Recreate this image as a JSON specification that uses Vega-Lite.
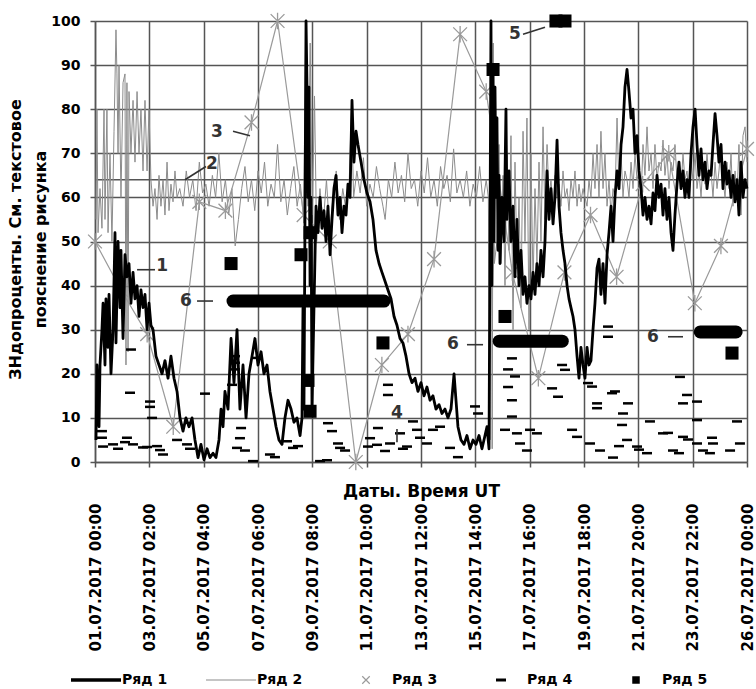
{
"$schema": "https://vega.github.io/schema/vega-lite/v6.json",
"width": 652, "height": 441,
"autosize": {"type": "none"},
"padding": {"left": 95, "top": 21, "right": 9, "bottom": 227},
"background": "white",
"config": {"view": {"stroke": null}, "font": "DejaVu Sans"},
"datasets": {
"r1": [{"h":0.9,"v":5},{"h":1.8,"v":22},{"h":3.7,"v":8},{"h":4.6,"v":22},{"h":6.4,"v":30},{"h":7.4,"v":36},{"h":9.2,"v":22},{"h":10.1,"v":37},{"h":12.0,"v":26},{"h":12.9,"v":38},{"h":14.7,"v":20},{"h":16.6,"v":30},{"h":18.4,"v":52},{"h":19.3,"v":27},{"h":21.2,"v":50},{"h":23.0,"v":35},{"h":23.9,"v":48},{"h":25.8,"v":28},{"h":27.6,"v":47},{"h":29.4,"v":42},{"h":31.3,"v":45},{"h":33.1,"v":36},{"h":35.0,"v":43},{"h":36.8,"v":37},{"h":38.7,"v":40},{"h":40.5,"v":33},{"h":42.3,"v":39},{"h":44.2,"v":35},{"h":46.0,"v":38},{"h":47.9,"v":30},{"h":49.7,"v":36},{"h":51.5,"v":31},{"h":53.4,"v":30},{"h":56.1,"v":24},{"h":58.9,"v":22},{"h":61.7,"v":20},{"h":64.4,"v":23},{"h":67.2,"v":19},{"h":69.9,"v":24},{"h":72.7,"v":19},{"h":75.5,"v":16},{"h":78.2,"v":10},{"h":81.0,"v":7},{"h":83.7,"v":10},{"h":86.5,"v":8},{"h":89.3,"v":10},{"h":92.0,"v":5},{"h":94.8,"v":1},{"h":97.5,"v":4},{"h":100.3,"v":0.5},{"h":103.1,"v":3},{"h":105.8,"v":1},{"h":108.6,"v":2},{"h":111.3,"v":1},{"h":114.1,"v":5},{"h":116.0,"v":12},{"h":117.8,"v":8},{"h":119.6,"v":16},{"h":122.4,"v":12},{"h":125.2,"v":28},{"h":127.9,"v":18},{"h":130.7,"v":30},{"h":133.4,"v":12},{"h":136.2,"v":22},{"h":139.0,"v":10},{"h":141.7,"v":20},{"h":144.5,"v":24},{"h":147.2,"v":28},{"h":150.0,"v":22},{"h":152.8,"v":25},{"h":155.5,"v":20},{"h":158.3,"v":22},{"h":161.0,"v":16},{"h":163.8,"v":12},{"h":166.6,"v":8},{"h":169.3,"v":5},{"h":172.1,"v":4},{"h":174.8,"v":10},{"h":177.6,"v":14},{"h":180.4,"v":12},{"h":183.1,"v":9},{"h":185.9,"v":10},{"h":188.7,"v":6},{"h":190.5,"v":10},{"h":191.4,"v":35},{"h":192.3,"v":12},{"h":194.2,"v":100},{"h":195.1,"v":85},{"h":196.0,"v":60},{"h":196.9,"v":85},{"h":197.9,"v":40},{"h":198.8,"v":60},{"h":199.7,"v":12},{"h":201.5,"v":35},{"h":203.4,"v":58},{"h":205.2,"v":52},{"h":207.1,"v":60},{"h":208.9,"v":53},{"h":210.7,"v":57},{"h":212.6,"v":50},{"h":214.4,"v":58},{"h":216.3,"v":47},{"h":218.1,"v":55},{"h":219.9,"v":62},{"h":221.8,"v":65},{"h":223.6,"v":56},{"h":225.5,"v":60},{"h":227.3,"v":52},{"h":229.1,"v":58},{"h":231.0,"v":56},{"h":232.8,"v":63},{"h":234.7,"v":60},{"h":236.5,"v":82},{"h":238.3,"v":68},{"h":240.2,"v":75},{"h":242.0,"v":72},{"h":244.8,"v":68},{"h":247.5,"v":64},{"h":250.3,"v":61},{"h":253.1,"v":59},{"h":255.8,"v":55},{"h":258.6,"v":48},{"h":261.4,"v":45},{"h":264.1,"v":43},{"h":266.9,"v":41},{"h":269.6,"v":39},{"h":272.4,"v":37},{"h":275.2,"v":33},{"h":277.9,"v":31},{"h":280.7,"v":28},{"h":283.4,"v":27},{"h":286.2,"v":24},{"h":289.0,"v":20},{"h":291.7,"v":18},{"h":294.5,"v":19},{"h":297.2,"v":16},{"h":300.0,"v":18},{"h":302.8,"v":15},{"h":305.5,"v":17},{"h":308.3,"v":14},{"h":311.0,"v":15},{"h":313.8,"v":12},{"h":316.6,"v":13},{"h":319.3,"v":11},{"h":322.1,"v":12},{"h":324.8,"v":10},{"h":327.6,"v":12},{"h":330.4,"v":20},{"h":332.2,"v":14},{"h":334.0,"v":8},{"h":336.8,"v":5},{"h":339.6,"v":4},{"h":342.3,"v":6},{"h":345.1,"v":3},{"h":347.9,"v":5},{"h":350.6,"v":4},{"h":353.4,"v":6},{"h":356.1,"v":3},{"h":358.9,"v":6},{"h":360.7,"v":8},{"h":362.6,"v":3},{"h":364.4,"v":100},{"h":365.3,"v":40},{"h":366.3,"v":90},{"h":367.2,"v":50},{"h":368.1,"v":85},{"h":369.0,"v":60},{"h":369.9,"v":78},{"h":370.9,"v":48},{"h":371.8,"v":65},{"h":372.7,"v":45},{"h":374.5,"v":60},{"h":376.4,"v":50},{"h":378.2,"v":80},{"h":379.1,"v":55},{"h":381.0,"v":66},{"h":382.8,"v":50},{"h":384.7,"v":58},{"h":386.5,"v":42},{"h":388.3,"v":55},{"h":390.2,"v":40},{"h":392.0,"v":48},{"h":393.9,"v":38},{"h":395.7,"v":42},{"h":397.5,"v":36},{"h":399.4,"v":40},{"h":401.2,"v":37},{"h":403.1,"v":43},{"h":404.9,"v":38},{"h":406.7,"v":45},{"h":408.6,"v":40},{"h":410.4,"v":48},{"h":412.3,"v":42},{"h":414.1,"v":50},{"h":416.0,"v":66},{"h":417.8,"v":55},{"h":419.6,"v":62},{"h":421.5,"v":54},{"h":423.3,"v":60},{"h":425.2,"v":73},{"h":427.0,"v":58},{"h":428.8,"v":52},{"h":430.7,"v":48},{"h":432.5,"v":45},{"h":434.4,"v":40},{"h":436.2,"v":37},{"h":438.0,"v":35},{"h":439.9,"v":33},{"h":441.7,"v":30},{"h":443.6,"v":24},{"h":445.4,"v":19},{"h":447.2,"v":26},{"h":449.1,"v":22},{"h":450.9,"v":19},{"h":452.8,"v":26},{"h":454.6,"v":22},{"h":456.4,"v":23},{"h":458.3,"v":30},{"h":460.1,"v":36},{"h":462.0,"v":44},{"h":463.8,"v":46},{"h":465.6,"v":38},{"h":467.5,"v":45},{"h":469.3,"v":36},{"h":471.2,"v":47},{"h":473.0,"v":52},{"h":474.9,"v":58},{"h":476.7,"v":50},{"h":478.5,"v":60},{"h":480.4,"v":66},{"h":482.2,"v":62},{"h":484.1,"v":72},{"h":485.9,"v":76},{"h":487.7,"v":85},{"h":489.6,"v":89},{"h":491.4,"v":84},{"h":493.3,"v":78},{"h":495.1,"v":80},{"h":496.9,"v":70},{"h":498.8,"v":74},{"h":500.6,"v":66},{"h":502.5,"v":62},{"h":504.3,"v":56},{"h":506.1,"v":60},{"h":508.0,"v":55},{"h":509.8,"v":58},{"h":511.7,"v":54},{"h":513.5,"v":61},{"h":515.3,"v":57},{"h":517.2,"v":65},{"h":519.0,"v":60},{"h":520.9,"v":63},{"h":522.7,"v":56},{"h":524.5,"v":62},{"h":526.4,"v":55},{"h":528.2,"v":60},{"h":530.1,"v":52},{"h":531.9,"v":48},{"h":533.7,"v":56},{"h":535.6,"v":63},{"h":537.4,"v":68},{"h":539.3,"v":62},{"h":541.1,"v":66},{"h":542.9,"v":60},{"h":544.8,"v":64},{"h":546.6,"v":60},{"h":548.5,"v":70},{"h":550.3,"v":76},{"h":552.2,"v":80},{"h":554.0,"v":72},{"h":555.8,"v":65},{"h":557.7,"v":71},{"h":559.5,"v":64},{"h":561.4,"v":68},{"h":563.2,"v":62},{"h":565.0,"v":66},{"h":566.9,"v":65},{"h":568.7,"v":72},{"h":570.6,"v":79},{"h":572.4,"v":74},{"h":574.2,"v":68},{"h":576.1,"v":72},{"h":577.9,"v":62},{"h":579.8,"v":68},{"h":581.6,"v":63},{"h":583.4,"v":66},{"h":585.3,"v":60},{"h":587.1,"v":65},{"h":589.0,"v":59},{"h":590.8,"v":64},{"h":592.6,"v":56},{"h":594.5,"v":68},{"h":596.3,"v":60},{"h":598.2,"v":64},{"h":600.0,"v":62}],
"r2": [{"h":0.9,"v":55},{"h":1.8,"v":80},{"h":2.8,"v":52},{"h":4.6,"v":62},{"h":6.4,"v":53},{"h":8.3,"v":80},{"h":9.2,"v":55},{"h":11.0,"v":80},{"h":12.0,"v":52},{"h":13.8,"v":70},{"h":15.6,"v":50},{"h":17.5,"v":75},{"h":19.3,"v":98},{"h":20.2,"v":88},{"h":21.2,"v":70},{"h":22.1,"v":90},{"h":23.9,"v":60},{"h":25.8,"v":86},{"h":27.6,"v":88},{"h":28.5,"v":22},{"h":29.4,"v":86},{"h":30.4,"v":25},{"h":31.3,"v":84},{"h":33.1,"v":70},{"h":35.0,"v":82},{"h":36.8,"v":68},{"h":38.7,"v":84},{"h":40.5,"v":70},{"h":42.3,"v":80},{"h":44.2,"v":66},{"h":46.0,"v":82},{"h":47.9,"v":66},{"h":49.7,"v":80},{"h":51.5,"v":64},{"h":53.4,"v":58},{"h":55.2,"v":62},{"h":57.1,"v":55},{"h":58.9,"v":65},{"h":60.7,"v":58},{"h":62.6,"v":64},{"h":64.4,"v":56},{"h":66.3,"v":68},{"h":68.1,"v":57},{"h":69.9,"v":63},{"h":71.8,"v":59},{"h":73.6,"v":66},{"h":75.5,"v":60},{"h":78,"v":62},{"h":81,"v":58},{"h":84,"v":66},{"h":87,"v":60},{"h":90,"v":64},{"h":93,"v":57},{"h":96,"v":68},{"h":99,"v":61},{"h":102,"v":63},{"h":105,"v":58},{"h":108,"v":65},{"h":111,"v":60},{"h":114,"v":70},{"h":117,"v":59},{"h":120,"v":64},{"h":123,"v":56},{"h":126,"v":62},{"h":129,"v":49},{"h":132,"v":55},{"h":135,"v":62},{"h":138,"v":67},{"h":141,"v":59},{"h":144,"v":64},{"h":147,"v":57},{"h":150,"v":66},{"h":153,"v":61},{"h":156,"v":68},{"h":159,"v":58},{"h":162,"v":63},{"h":165,"v":60},{"h":168,"v":72},{"h":171,"v":59},{"h":174,"v":64},{"h":177,"v":56},{"h":180,"v":62},{"h":183,"v":67},{"h":186,"v":58},{"h":189,"v":63},{"h":192,"v":55},{"h":194,"v":100},{"h":196,"v":58},{"h":198,"v":95},{"h":200,"v":56},{"h":202,"v":83},{"h":204,"v":50},{"h":207,"v":62},{"h":210,"v":54},{"h":213,"v":64},{"h":216,"v":52},{"h":219,"v":60},{"h":222,"v":66},{"h":225,"v":55},{"h":228,"v":62},{"h":231,"v":57},{"h":234,"v":64},{"h":236,"v":80},{"h":238,"v":60},{"h":241,"v":66},{"h":244,"v":61},{"h":247,"v":69},{"h":250,"v":58},{"h":253,"v":63},{"h":256,"v":60},{"h":259,"v":67},{"h":262,"v":62},{"h":265,"v":58},{"h":267,"v":55},{"h":270,"v":64},{"h":273,"v":60},{"h":276,"v":68},{"h":279,"v":61},{"h":282,"v":65},{"h":285,"v":59},{"h":288,"v":70},{"h":291,"v":62},{"h":294,"v":64},{"h":297,"v":58},{"h":300,"v":66},{"h":303,"v":61},{"h":306,"v":69},{"h":309,"v":60},{"h":312,"v":64},{"h":315,"v":58},{"h":318,"v":67},{"h":321,"v":62},{"h":324,"v":65},{"h":327,"v":59},{"h":330,"v":71},{"h":333,"v":61},{"h":336,"v":64},{"h":339,"v":60},{"h":342,"v":66},{"h":345,"v":58},{"h":348,"v":63},{"h":351,"v":60},{"h":354,"v":67},{"h":357,"v":59},{"h":360,"v":64},{"h":362,"v":60},{"h":363.5,"v":5},{"h":364.4,"v":100},{"h":365.5,"v":3},{"h":366.5,"v":95},{"h":367.5,"v":45},{"h":369.9,"v":50},{"h":371.8,"v":72},{"h":373.6,"v":45},{"h":375.5,"v":65},{"h":377.3,"v":40},{"h":379.1,"v":70},{"h":381.0,"v":48},{"h":382.8,"v":74},{"h":384.7,"v":30},{"h":386.5,"v":68},{"h":388.3,"v":45},{"h":390.2,"v":60},{"h":392.0,"v":35},{"h":393.9,"v":75},{"h":395.7,"v":50},{"h":397.5,"v":78},{"h":399.4,"v":30},{"h":401.2,"v":70},{"h":403.1,"v":40},{"h":404.9,"v":62},{"h":406.7,"v":45},{"h":408.6,"v":68},{"h":410.4,"v":50},{"h":412.3,"v":76},{"h":414.1,"v":55},{"h":416.0,"v":72},{"h":417.8,"v":60},{"h":419.6,"v":64},{"h":421.5,"v":58},{"h":423.3,"v":65},{"h":425.2,"v":60},{"h":427.0,"v":63},{"h":428.8,"v":58},{"h":430.7,"v":66},{"h":432.5,"v":60},{"h":434.4,"v":62},{"h":436.2,"v":57},{"h":438.0,"v":64},{"h":439.9,"v":60},{"h":441.7,"v":66},{"h":443.6,"v":58},{"h":445.4,"v":63},{"h":447.2,"v":59},{"h":449.1,"v":62},{"h":450.9,"v":60},{"h":452.8,"v":58},{"h":454.6,"v":64},{"h":456.4,"v":60},{"h":458.3,"v":70},{"h":460.1,"v":62},{"h":462.0,"v":72},{"h":463.8,"v":60},{"h":465.6,"v":75},{"h":467.5,"v":62},{"h":469.3,"v":70},{"h":471.2,"v":58},{"h":473.0,"v":64},{"h":474.9,"v":56},{"h":476.7,"v":62},{"h":478.5,"v":60},{"h":480.4,"v":78},{"h":482.2,"v":62},{"h":484.1,"v":70},{"h":485.9,"v":60},{"h":487.7,"v":66},{"h":489.6,"v":64},{"h":491.4,"v":60},{"h":493.3,"v":68},{"h":495.1,"v":62},{"h":496.9,"v":70},{"h":498.8,"v":64},{"h":500.6,"v":66},{"h":502.5,"v":60},{"h":504.3,"v":72},{"h":506.1,"v":65},{"h":508.0,"v":76},{"h":509.8,"v":66},{"h":511.7,"v":70},{"h":513.5,"v":62},{"h":515.3,"v":72},{"h":517.2,"v":64},{"h":519.0,"v":68},{"h":520.9,"v":66},{"h":522.7,"v":73},{"h":524.5,"v":65},{"h":526.4,"v":70},{"h":528.2,"v":62},{"h":530.1,"v":68},{"h":531.9,"v":66},{"h":533.7,"v":72},{"h":535.6,"v":64},{"h":537.4,"v":68},{"h":539.3,"v":62},{"h":541.1,"v":70},{"h":542.9,"v":64},{"h":544.8,"v":66},{"h":546.6,"v":60},{"h":548.5,"v":68},{"h":550.3,"v":64},{"h":552.2,"v":70},{"h":554.0,"v":62},{"h":555.8,"v":66},{"h":557.7,"v":60},{"h":559.5,"v":68},{"h":561.4,"v":63},{"h":563.2,"v":70},{"h":565.0,"v":64},{"h":566.9,"v":66},{"h":568.7,"v":60},{"h":570.6,"v":68},{"h":572.4,"v":62},{"h":574.2,"v":66},{"h":576.1,"v":72},{"h":577.9,"v":64},{"h":579.8,"v":60},{"h":581.6,"v":68},{"h":583.4,"v":62},{"h":585.3,"v":70},{"h":587.1,"v":58},{"h":589.0,"v":66},{"h":590.8,"v":60},{"h":592.6,"v":72},{"h":594.5,"v":56},{"h":596.3,"v":74},{"h":598.2,"v":76},{"h":600.0,"v":68}],
"r3": [{"h":0,"v":50},{"h":24,"v":39},{"h":48,"v":29},{"h":72,"v":8},{"h":96,"v":59},{"h":120,"v":57},{"h":144,"v":77},{"h":168,"v":100},{"h":192,"v":56},{"h":216,"v":50},{"h":240,"v":0},{"h":264,"v":22},{"h":288,"v":29},{"h":312,"v":46},{"h":336,"v":97},{"h":360,"v":84},{"h":384,"v":43},{"h":408,"v":19},{"h":432,"v":43},{"h":456,"v":56},{"h":480,"v":42},{"h":504,"v":63},{"h":528,"v":70},{"h":552,"v":36},{"h":576,"v":49},{"h":600,"v":71}],
"r4": [{"h":6.4,"v":7},{"h":6.4,"v":5.5},{"h":7.4,"v":3.5},{"h":16.6,"v":4},{"h":21.2,"v":3},{"h":27.6,"v":4.5},{"h":29.4,"v":5.5},{"h":32.2,"v":15.7},{"h":33.1,"v":25.5},{"h":35.0,"v":4},{"h":44.2,"v":3.3},{"h":47.9,"v":3.4},{"h":50.6,"v":13.7},{"h":50.6,"v":12.5},{"h":52.5,"v":10},{"h":57.1,"v":3.6},{"h":59.8,"v":2.7},{"h":62.6,"v":1.7},{"h":75.5,"v":5},{"h":84.7,"v":4},{"h":87.4,"v":3},{"h":101.2,"v":15.5},{"h":126.1,"v":17.5},{"h":128.8,"v":24},{"h":128.8,"v":22.5},{"h":128.8,"v":21},{"h":130.7,"v":3.2},{"h":133.4,"v":5.4},{"h":134.4,"v":7.7},{"h":138.0,"v":2.6},{"h":145.4,"v":0.2},{"h":150.0,"v":23.6},{"h":161.0,"v":1.7},{"h":165.6,"v":1.1},{"h":176.7,"v":4.7},{"h":182.2,"v":3.2},{"h":186.8,"v":3.6},{"h":207.1,"v":0.2},{"h":213.5,"v":0.4},{"h":214.4,"v":8.8},{"h":218.1,"v":7},{"h":223.6,"v":4.2},{"h":225.5,"v":3.2},{"h":230.1,"v":2.6},{"h":251.2,"v":3.5},{"h":253.1,"v":5.4},{"h":259.5,"v":3.9},{"h":260.4,"v":7.7},{"h":266.9,"v":2.5},{"h":269.6,"v":17.5},{"h":269.6,"v":15.2},{"h":271.5,"v":4.2},{"h":280.7,"v":6.5},{"h":283.4,"v":3},{"h":287.1,"v":3.5},{"h":292.6,"v":9.2},{"h":296.3,"v":7.3},{"h":299.1,"v":5.5},{"h":305.5,"v":4.2},{"h":311.0,"v":7.3},{"h":317.5,"v":8},{"h":326.7,"v":3.2},{"h":334.0,"v":1.1},{"h":349.7,"v":12.6},{"h":352.5,"v":11},{"h":377.3,"v":7.3},{"h":380.1,"v":21},{"h":380.1,"v":17},{"h":383.7,"v":23.5},{"h":383.7,"v":14},{"h":383.7,"v":10.3},{"h":386.5,"v":19.4},{"h":388.3,"v":6.5},{"h":391.1,"v":4.2},{"h":397.5,"v":2.6},{"h":400.3,"v":7.3},{"h":406.7,"v":6.5},{"h":420.6,"v":16.7},{"h":426.1,"v":14.8},{"h":429.8,"v":22},{"h":432.5,"v":20.9},{"h":439.0,"v":7.3},{"h":443.6,"v":5.7},{"h":453.7,"v":17.9},{"h":457.4,"v":17.1},{"h":462.0,"v":13.3},{"h":462.0,"v":12.2},{"h":455.5,"v":4.2},{"h":464.7,"v":2.6},{"h":472.1,"v":28.4},{"h":472.1,"v":30.7},{"h":475.8,"v":15.6},{"h":476.7,"v":1},{"h":478.5,"v":16},{"h":482.2,"v":3.6},{"h":485.0,"v":8.4},{"h":485.9,"v":11},{"h":489.6,"v":5},{"h":490.5,"v":13.3},{"h":498.8,"v":3.5},{"h":500.6,"v":2.8},{"h":508.0,"v":2},{"h":510.7,"v":9.2},{"h":522.7,"v":6.5},{"h":527.3,"v":6.6},{"h":531.9,"v":2.6},{"h":537.4,"v":2},{"h":538.3,"v":19.3},{"h":541.1,"v":13.3},{"h":541.1,"v":5.7},{"h":544.8,"v":15.2},{"h":545.7,"v":5.1},{"h":554.0,"v":13.7},{"h":554.0,"v":9.5},{"h":554.0,"v":4.2},{"h":559.5,"v":2.6},{"h":565.9,"v":2},{"h":567.8,"v":5.5},{"h":568.7,"v":4.2},{"h":584.4,"v":2.6},{"h":590.8,"v":9.2},{"h":593.5,"v":4.2}],
"r5": [{"h":125.2,"v":45},{"h":189.6,"v":47},{"h":197.9,"v":52},{"h":196.0,"v":18.5},{"h":197.9,"v":11.5},{"h":265.0,"v":27},{"h":366.3,"v":89},{"h":377.3,"v":33},{"h":424.2,"v":100},{"h":432.5,"v":100},{"h":586.2,"v":24.7}],
"bars": [{"h":127,"h2":266,"v":36.5},{"h":372,"h2":430,"v":27.4},{"h":557,"h2":590,"v":29.5}],
"ref": [{"h":0,"h2":600,"v":64}],
"leaders": [{"h":38.7,"v":43.6,"h2":55.2,"v2":43.6},{"h":82.8,"v":64,"h2":102.1,"v2":67},{"h":127.0,"v":75,"h2":142.6,"v2":74},{"h":277.9,"v":7.5,"h2":277.9,"v2":4.5},{"h":393.9,"v":97,"h2":414.1,"v2":98.6},{"h":93.9,"v":36.5,"h2":108.6,"v2":36.5},{"h":342.3,"v":26.6,"h2":357.1,"v2":26.6},{"h":527.3,"v":28.4,"h2":541.1,"v2":28.4}],
"labels": [{"h":61.7,"v":44.5,"t":"1"},{"h":107.7,"v":67.5,"t":"2"},{"h":112.3,"v":74.8,"t":"3"},{"h":277.9,"v":11,"t":"4"},{"h":386.5,"v":97,"t":"5"},{"h":83.7,"v":36.5,"t":"6"},{"h":329.4,"v":26.8,"t":"6"},{"h":513.5,"v":28.4,"t":"6"}]
},
"encoding": {
  "x": {"field": "h", "type": "quantitative",
    "scale": {"domain": [0, 600], "nice": false, "zero": false},
    "axis": {"values": [0,50,100,150,200,250,300,350,400,450,500,550,600],
      "labelExpr": "utcFormat(utc(2017,6,1) + datum.value*3600000, '%d.%m.%Y %H:%M')",
      "labelAngle": -90, "labelAlign": "right", "labelBaseline": "middle", "labelPadding": 36,
      "labelFlush": false, "labelOverlap": false, "labelBound": false,
      "labelFont": "DejaVu Sans", "labelFontSize": 15, "labelFontWeight": "bold", "labelColor": "#000",
      "tickSize": 5, "tickColor": "#555", "tickWidth": 1.5,
      "grid": true, "gridColor": "#555", "gridWidth": 1.5,
      "domainColor": "#555", "domainWidth": 1.5,
      "title": "Даты. Время UT", "titleFont": "DejaVu Sans", "titleFontSize": 17, "titleFontWeight": "bold", "titleColor": "#000",
      "titleY": 29, "titleBaseline": "middle"}},
  "y": {"field": "v", "type": "quantitative",
    "scale": {"domain": [0, 100], "nice": false, "zero": false},
    "axis": {"values": [0,10,20,30,40,50,60,70,80,90,100],
      "labelFont": "DejaVu Sans", "labelFontSize": 14, "labelFontWeight": "bold", "labelColor": "#000", "labelPadding": 10,
      "tickSize": 5, "tickColor": "#555", "tickWidth": 1.5,
      "grid": true, "gridColor": "#555", "gridWidth": 1.5,
      "domainColor": "#555", "domainWidth": 1.5,
      "title": ["ЗНдопроценты. См. текстовое", "пояснение рисунка"],
      "titleFont": "DejaVu Sans", "titleFontSize": 16, "titleFontWeight": "bold", "titleColor": "#000",
      "titleLineHeight": 25, "titleX": -72, "titleY": 218, "titleAlign": "center", "titleBaseline": "bottom", "titleAngle": -90}}
},
"layer": [
  {"data": {"name": "ref"}, "mark": {"type": "rule", "color": "#555", "strokeWidth": 1.5}, "encoding": {"x2": {"field": "h2"}}},
  {"data": {"name": "r2"}, "mark": {"type": "line", "strokeWidth": 1},
   "encoding": {"color": {"datum": "Ряд 2", "type": "nominal",
     "scale": {"domain": ["Ряд 1","Ряд 2","Ряд 3","Ряд 4","Ряд 5"], "range": ["#000000","#8c8c8c","#9a9a9a","#000000","#000000"]},
     "legend": {"orient": "none", "legendX": -6, "legendY": 652, "direction": "horizontal", "columns": 5, "gridAlign": "all", "title": null,
       "symbolSize": 2500, "symbolStrokeWidth": 1, "labelFont": "DejaVu Sans", "labelFontSize": 14, "labelFontWeight": "bold", "labelColor": "#000",
       "labelOffset": 19, "columnPadding": 35,
       "encode": {"symbols": {"update": {
         "shape": {"signal": "datum.value === 'Ряд 1' || datum.value === 'Ряд 2' ? 'M-1,0H1' : datum.value === 'Ряд 3' ? 'M-0.15,-0.15L0.15,0.15M-0.15,0.15L0.15,-0.15' : datum.value === 'Ряд 4' ? 'M-0.2,0H0.2' : 'M-0.15,-0.15H0.15V0.15H-0.15Z'"},
         "size": {"value": 2500},
         "fill": {"signal": "datum.value === 'Ряд 5' ? '#000' : 'transparent'"},
         "stroke": {"signal": "datum.value === 'Ряд 2' || datum.value === 'Ряд 3' ? '#8c8c8c' : '#000'"},
         "strokeWidth": {"signal": "datum.value === 'Ряд 1' ? 3.5 : datum.value === 'Ряд 4' ? 3 : datum.value === 'Ряд 5' ? 0 : 1.2"},
         "opacity": {"value": 1}}}}}}}},
  {"data": {"name": "r3"}, "mark": {"type": "line", "strokeWidth": 1.2},
   "encoding": {"color": {"datum": "Ряд 3", "type": "nominal"}}},
  {"data": {"name": "r3"}, "mark": {"type": "point", "shape": "M-1,-1L1,1M-1,1L1,-1M0,-1.2L0,1.2", "size": 190, "filled": false, "strokeWidth": 1.3, "opacity": 1, "clip": false},
   "encoding": {"color": {"datum": "Ряд 3", "type": "nominal"}}},
  {"data": {"name": "r1"}, "mark": {"type": "line", "strokeWidth": 2.8, "strokeJoin": "round"},
   "encoding": {"color": {"datum": "Ряд 1", "type": "nominal"}}},
  {"data": {"name": "r4"}, "mark": {"type": "point", "shape": "M-1,0H1", "size": 100, "filled": false, "strokeWidth": 2.5, "opacity": 1},
   "encoding": {"color": {"datum": "Ряд 4", "type": "nominal"}}},
  {"data": {"name": "bars"}, "mark": {"type": "rule", "color": "#000", "strokeWidth": 13, "strokeCap": "round"}, "encoding": {"x2": {"field": "h2"}}},
  {"data": {"name": "r5"}, "mark": {"type": "point", "shape": "square", "size": 170, "filled": true, "opacity": 1, "clip": false},
   "encoding": {"color": {"datum": "Ряд 5", "type": "nominal"}}},
  {"data": {"name": "leaders"}, "mark": {"type": "rule", "color": "#333", "strokeWidth": 1.6}, "encoding": {"x2": {"field": "h2"}, "y2": {"field": "v2"}}},
  {"data": {"name": "labels"}, "mark": {"type": "text", "font": "DejaVu Sans", "fontSize": 17, "fontWeight": "bold", "color": "#333", "baseline": "middle", "align": "center"}, "encoding": {"text": {"field": "t"}}}
]
}
